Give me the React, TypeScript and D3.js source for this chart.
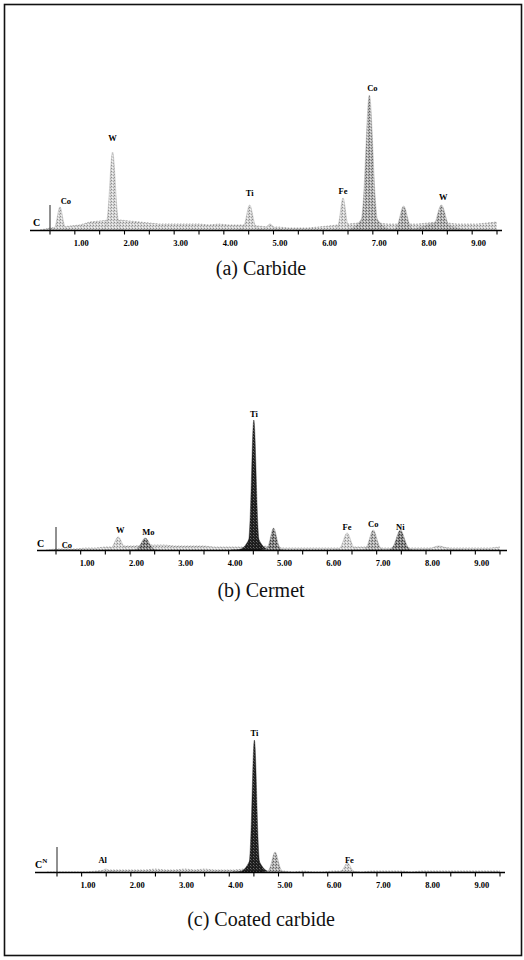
import React from 'react';
import * as d3 from 'd3';

// ---------- shared axis data ----------
const TICK_KEV = [0.5, 1, 1.5, 2, 2.5, 3, 3.5, 4, 4.5, 5, 5.5, 6, 6.5, 7, 7.5, 8, 8.5, 9, 9.5];
const LABEL_KEV = [1, 2, 3, 4, 5, 6, 7, 8, 9];
const LABEL_TEXT = ['1.00', '2.00', '3.00', '4.00', '5.00', '6.00', '7.00', '8.00', '9.00'];
const BG_KEV = [0.3, 0.5, 0.7, 0.9, 1.1, 1.3, 1.5, 1.7, 1.9, 2.1, 2.3, 2.5, 2.7, 2.9, 3.1, 3.3, 3.5, 3.7, 3.9, 4.1, 4.3, 4.5, 4.7, 4.9, 5.1, 5.3, 5.5, 5.7, 5.9, 6.1, 6.3, 6.5, 6.7, 6.9, 7.1, 7.3, 7.5, 7.7, 7.9, 8.1, 8.3, 8.5, 8.7, 8.9, 9.1, 9.3, 9.5];

// ---------- (a) Carbide ----------
const A_EL = ['', '', 'Co', 'W', 'Ti', '', 'Fe', 'Co', '', 'W'];
const A_KEV = [8.3, 6.93, 0.7, 1.76, 4.52, 4.93, 6.4, 6.93, 7.62, 8.38];
const A_CTS = [7, 18, 23, 78, 25, 6, 32, 135, 24, 25];
const A_SIG = [0.25, 0.16, 0.05, 0.055, 0.06, 0.06, 0.05, 0.07, 0.07, 0.08];
const A_BG = [0, 2, 3, 4, 5, 8, 9, 10, 10, 9, 8, 7, 6, 6, 6, 6, 6, 5, 6, 5, 5, 5, 4, 3, 3, 2, 2, 2, 3, 4, 5, 6, 7, 8, 7, 6, 6, 6, 6, 7, 8, 7, 6, 6, 6, 7, 8];

// ---------- (b) Cermet ----------
const B_EL = ['', 'Co', 'W', 'Mo', 'Ti', '', 'Fe', 'Co', 'Ni', ''];
const B_KEV = [4.51, 0.72, 1.76, 2.31, 4.51, 4.91, 6.4, 6.93, 7.48, 8.26];
const B_CTS = [16, 1, 13, 12, 130, 22, 17, 20, 20, 4];
const B_SIG = [0.11, 0.05, 0.07, 0.08, 0.045, 0.06, 0.07, 0.07, 0.08, 0.12];
const B_BG = [0, 1, 1, 1, 2, 2, 3, 3, 4, 4, 5, 5, 5, 4, 4, 4, 4, 3, 3, 3, 3, 4, 4, 3, 2, 2, 2, 2, 2, 2, 2, 3, 3, 3, 2, 2, 2, 2, 2, 2, 3, 2, 2, 2, 2, 2, 3];

// ---------- (c) Coated carbide ----------
const C_EL = ['', 'Al', 'Ti', '', 'Fe'];
const C_KEV = [4.51, 1.49, 4.51, 4.93, 6.4];
const C_CTS = [16, 3, 132, 20, 9];
const C_SIG = [0.11, 0.05, 0.045, 0.06, 0.06];
const C_BG = [0, 0, 0, 0, 0, 1, 2, 2, 2, 2, 2, 3, 2, 2, 3, 2, 3, 2, 2, 2, 3, 2, 1, 1, 1, 0, 1, 0, 0, 1, 1, 0, 0, 1, 1, 1, 1, 0, 1, 1, 1, 1, 1, 1, 1, 1, 1];

// ---------- layout / style (kept separate from data) ----------
type Panel = {
  el: string[]; kev: number[]; cts: number[]; sig: number[]; bg: number[];
  shade: string[]; ldx: number[]; ldy: number[];
  x05: number; x95: number; base: number; axFrom: number; axTo: number; stubTop: number;
  caption: string; capY: number; cx: number; cy: number; cSup?: string;
};

const PANELS: Panel[] = [
  {
    el: A_EL, kev: A_KEV, cts: A_CTS, sig: A_SIG, bg: A_BG,
    shade: ['mid', 'mid', 'light', 'light', 'light', 'light', 'light', 'mid', 'mid', 'mid'],
    ldx: [0, 0, 6, 0, 0, 0, 0, 3, 0, 2], ldy: [0, 0, 3, 11, 9, 0, 4, 4, 0, 5],
    x05: 50, x95: 497, base: 230.5, axFrom: 30, axTo: 502, stubTop: 205,
    caption: '(a) Carbide', capY: 275, cx: 33, cy: 226,
  },
  {
    el: B_EL, kev: B_KEV, cts: B_CTS, sig: B_SIG, bg: B_BG,
    shade: ['dark', 'light', 'light', 'dmid', 'dark', 'dmid', 'light', 'mid', 'dmid', 'light'],
    ldx: [0, 0, 2, 3, 0, 0, 0, 0, 0, 0], ldy: [0, 1, 4, 3, 3, 0, 3, 3, 0, 0],
    x05: 56, x95: 500, base: 550.5, axFrom: 37, axTo: 507, stubTop: 527,
    caption: '(b) Cermet', capY: 597, cx: 37, cy: 547,
  },
  {
    el: C_EL, kev: C_KEV, cts: C_CTS, sig: C_SIG, bg: C_BG,
    shade: ['dark', 'light', 'dark', 'mid', 'light'],
    ldx: [0, -3, 0, 0, 2], ldy: [0, 6, 4, 0, 0],
    x05: 57, x95: 500, base: 872.5, axFrom: 35, axTo: 505, stubTop: 847,
    caption: '(c) Coated carbide', capY: 926, cx: 35, cy: 868, cSup: 'N',
  },
];

const FILL: Record<string, string> = {
  light: 'url(#stLight)',
  mid: 'url(#stMid)',
  dmid: 'url(#stDMid)',
  dark: 'url(#stDark)',
};

const SERIF = '"Liberation Serif", "Times New Roman", serif';

function PanelView({ p }: { p: Panel }) {
  const x = d3.scaleLinear().domain([0.5, 9.5]).range([p.x05, p.x95]);
  const y = d3.scaleLinear().domain([0, 140]).range([p.base - 0.5, p.base - 140.5]);

  const bgArea = d3.area<number>()
    .x((_, i) => x(BG_KEV[i]))
    .y0(p.base - 0.5)
    .y1((v) => y(v))
    .curve(d3.curveLinear);
  const bgLine = d3.line<number>()
    .x((_, i) => x(BG_KEV[i]))
    .y((v) => y(v));

  const peakPath = (i: number) => {
    const e = p.kev[i], h = p.cts[i], s = p.sig[i];
    const pts: [number, number][] = [];
    for (let k = -32; k <= 32; k++) {
      const ev = e + (k / 8) * s;
      pts.push([ev, h * Math.exp(-0.5 * (k / 8) * (k / 8))]);
    }
    const a = d3.area<[number, number]>()
      .x((d) => x(d[0]))
      .y0(p.base - 0.5)
      .y1((d) => y(d[1]))
      .curve(d3.curveLinear);
    return a(pts) || '';
  };

  return (
    <g>
      <path d={bgArea(p.bg) || ''} fill="url(#stLight)" />
      <path d={bgLine(p.bg) || ''} fill="none" stroke="#9a9a9a" strokeWidth={0.8} strokeDasharray="1.5 1.5" />
      {p.kev.map((_, i) => (
        <path key={i} d={peakPath(i)} fill={FILL[p.shade[i]]} stroke={p.shade[i] === 'dark' ? '#222' : '#a0a0a0'} strokeWidth={0.4} />
      ))}
      <line x1={p.axFrom} x2={p.axTo} y1={p.base} y2={p.base} stroke="#000" strokeWidth={1.6} />
      {TICK_KEV.map((t) => (
        <line key={t} x1={x(t)} x2={x(t)} y1={p.base} y2={p.base + 4} stroke="#000" strokeWidth={1.1} />
      ))}
      <line x1={x(0.5)} x2={x(0.5)} y1={p.stubTop} y2={p.base} stroke="#222" strokeWidth={1} />
      {LABEL_KEV.map((t, i) => (
        <text key={t} x={x(t) - 1} y={p.base + 15} fontFamily={SERIF} fontWeight="bold" fontSize={8.5} fill="#000">
          {LABEL_TEXT[i]}
        </text>
      ))}
      <text x={p.cx} y={p.cy} fontFamily={SERIF} fontWeight="bold" fontSize={10} fill="#000">
        C
        {p.cSup ? <tspan dy={-5} fontSize={7}>{p.cSup}</tspan> : null}
      </text>
      {p.el.map((name, i) =>
        name ? (
          <text key={i} x={x(p.kev[i]) + p.ldx[i]} y={y(p.cts[i]) - p.ldy[i]} textAnchor="middle"
            fontFamily={SERIF} fontWeight="bold" fontSize={8.5} fill="#000">
            {name}
          </text>
        ) : null
      )}
      <text x={261} y={p.capY} textAnchor="middle" fontFamily={SERIF} fontSize={20} fill="#111">
        {p.caption}
      </text>
    </g>
  );
}

export default function App() {
  return (
    <svg width={524} height={960} viewBox="0 0 524 960"
      style={{ position: 'absolute', left: 0, top: 0, background: '#fff' }}>
      <defs>
        <pattern id="stLight" width="3" height="3" patternUnits="userSpaceOnUse">
          <rect width="3" height="3" fill="#d4d4d4" />
          <rect x="0" y="0" width="1" height="1" fill="#8c8c8c" />
          <rect x="2" y="1" width="1" height="1" fill="#a8a8a8" />
          <rect x="1" y="2" width="1" height="1" fill="#f4f4f4" />
        </pattern>
        <pattern id="stMid" width="3" height="3" patternUnits="userSpaceOnUse">
          <rect width="3" height="3" fill="#b4b4b4" />
          <rect x="0" y="0" width="1" height="1" fill="#606060" />
          <rect x="2" y="1" width="1" height="1" fill="#7a7a7a" />
          <rect x="1" y="2" width="1" height="1" fill="#e4e4e4" />
        </pattern>
        <pattern id="stDMid" width="3" height="3" patternUnits="userSpaceOnUse">
          <rect width="3" height="3" fill="#888" />
          <rect x="0" y="0" width="1" height="1" fill="#333" />
          <rect x="2" y="1" width="1" height="1" fill="#4a4a4a" />
          <rect x="1" y="2" width="1" height="1" fill="#cacaca" />
        </pattern>
        <pattern id="stDark" width="3" height="3" patternUnits="userSpaceOnUse">
          <rect width="3" height="3" fill="#1e1e1e" />
          <rect x="1" y="1" width="1" height="1" fill="#6a6a6a" />
          <rect x="2" y="2" width="1" height="1" fill="#444" />
        </pattern>
      </defs>
      <rect x={4.5} y={4.5} width={517} height={951} fill="none" stroke="#111" strokeWidth={1.6} />
      {PANELS.map((p, i) => (
        <PanelView key={i} p={p} />
      ))}
    </svg>
  );
}
